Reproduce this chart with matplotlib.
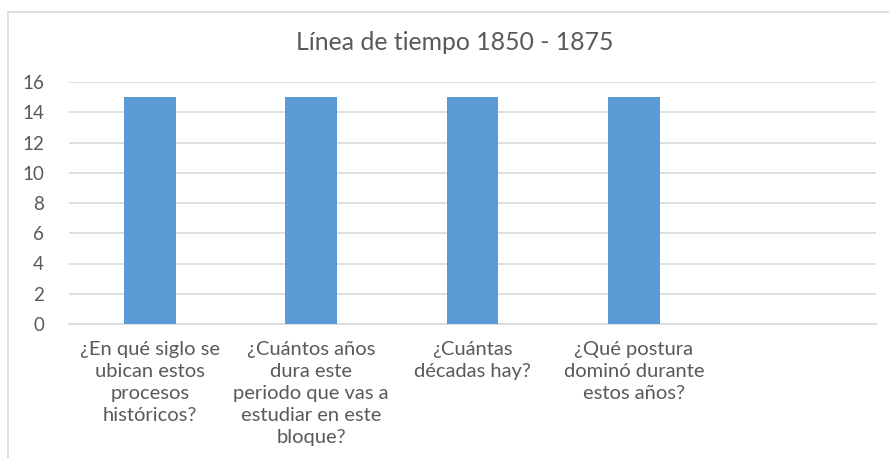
import matplotlib
matplotlib.use("Agg")
import matplotlib.pyplot as plt
from matplotlib.lines import Line2D

# Datos
categorias = [
    "¿En qué siglo se\nubican estos\nprocesos\nhistóricos?",
    "¿Cuántos años\ndura este\nperiodo que vas a\nestudiar en este\nbloque?",
    "¿Cuántas\ndécadas hay?",
    "¿Qué postura\ndominó durante\nestos años?",
    "",
]
valores = [15, 15, 15, 15, 0]
y_ticks = [0, 2, 4, 6, 8, 10, 12, 14, 16]
titulo = "Línea de tiempo 1850 - 1875"

gris_texto = "#595959"
gris_linea = "#D9D9D9"
azul = "#5B9BD5"

plt.rcParams["font.family"] = ["Lato", "DejaVu Sans"]

W, H = 889, 458
fig = plt.figure(figsize=(W / 100, H / 100), dpi=100)
fig.patch.set_facecolor("white")

# Ejes (posicion en pixeles del original)
x0, x1 = 69, 876
y_top, y_bot = 82, 324
ax = fig.add_axes([x0 / W, (H - y_bot) / H, (x1 - x0) / W, (y_bot - y_top) / H])

pos = list(range(len(categorias)))
ax.bar(pos, valores, width=0.32, color=azul, zorder=3)

ax.set_xlim(-0.5, len(categorias) - 0.5)
ax.set_ylim(0, 16)
ax.set_yticks(y_ticks)
ax.set_yticklabels([str(v) for v in y_ticks], fontsize=13.5, color=gris_texto)
ax.set_xticks(pos)
ax.set_xticklabels(categorias, fontsize=14.5, color=gris_texto, linespacing=1.36, va="top")

ax.grid(axis="y", color=gris_linea, linewidth=1.2, zorder=0)
for s in ["top", "right", "left"]:
    ax.spines[s].set_visible(False)
ax.spines["bottom"].set_color(gris_linea)
ax.spines["bottom"].set_linewidth(1.2)
ax.tick_params(axis="both", length=0)
ax.tick_params(axis="y", pad=18)
ax.tick_params(axis="x", pad=12)

# Titulo
fig.text(455 / W, 1 - 43 / H, titulo, ha="center", va="center", fontsize=17.8, color=gris_texto)

# Marco del grafico (solo borde superior e izquierdo visibles)
fig.add_artist(Line2D([8 / W, 1], [1 - 12 / H, 1 - 12 / H], color=gris_linea, lw=1.2, transform=fig.transFigure))
fig.add_artist(Line2D([8 / W, 8 / W], [0, 1 - 12 / H], color=gris_linea, lw=1.2, transform=fig.transFigure))

fig.savefig("out.png", dpi=100, facecolor="white")
